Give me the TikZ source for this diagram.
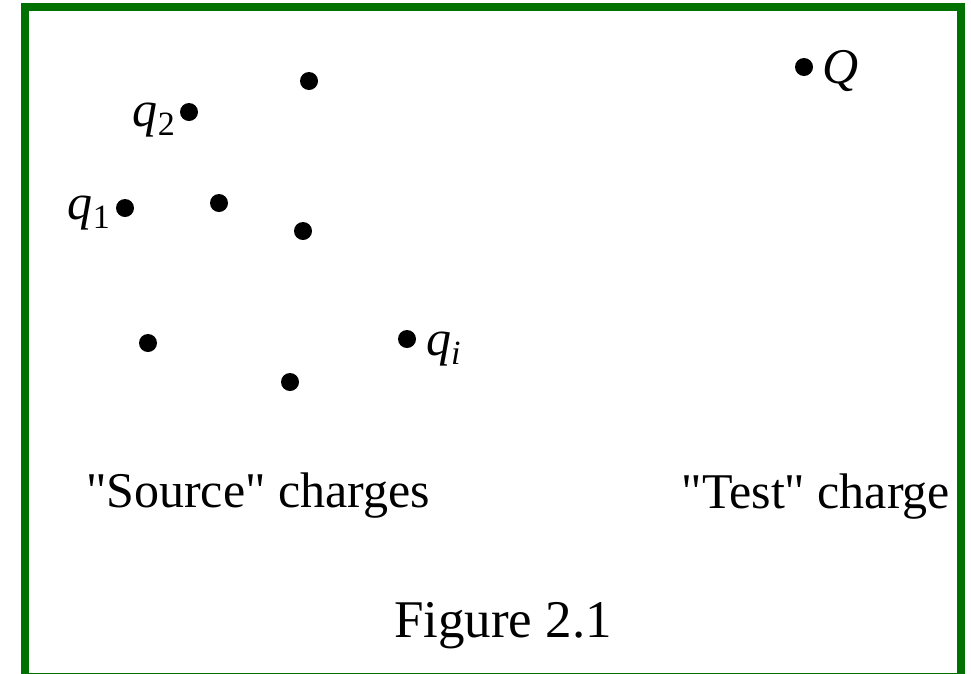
\documentclass[tikz,border=0pt]{standalone}
\usepackage{fontspec}
\setmainfont{Liberation Serif}[Ligatures=TeXOff]
\definecolor{framegreen}{RGB}{0,112,0}
% lowered subscript for the charge symbols
\newcommand\chgsub[1]{\raisebox{-9pt}{\fontsize{34}{34}\selectfont #1}}
\begin{document}
\begin{tikzpicture}[x=1pt,y=-1pt,
  charge/.style={circle,fill=black,inner sep=0pt,minimum size=18pt},
  caption/.style={inner sep=0pt,anchor=base,font=\fontsize{50}{60}\selectfont},
  sym/.style={inner sep=0pt,font=\fontsize{50}{60}\selectfont\itshape}]
\useasboundingbox (0,0) rectangle (971,673);
\fill[white] (0,0) rectangle (971,673);
% frame
\draw[framegreen,line width=8pt] (25,6.5) rectangle (961,677);

% source charges
\node[charge] (c2)   at (189,112) {};
\node[charge] (c1)   at (125,208) {};
\node[charge] (ca)   at (309,81)  {};
\node[charge] (cb)   at (219,203) {};
\node[charge] (cc)   at (303,231) {};
\node[charge] (cd)   at (148,343) {};
\node[charge] (ce)   at (290,382) {};
\node[charge] (ci)   at (407,339) {};
% test charge
\node[charge] (cQ)   at (804,67)  {};

% charge labels
\node[sym,anchor=base east] (l2) at (175,126) {q\chgsub{\upshape 2}};
\node[sym,anchor=base east] (l1) at (110,219) {q\chgsub{\upshape 1}};
\node[sym,anchor=base west] (li) at (426,355) {q\chgsub{i}};
\node[sym,anchor=base west] (lQ) at (822,83)  {Q};

% captions
\node[caption] (src)  at (258,507) {"Source" charges};
\node[caption] (tst)  at (816,508) {"Test" charge};
\node[caption,font=\fontsize{53}{62}\selectfont] (fig) at (503,637) {Figure 2.1};
\end{tikzpicture}
\end{document}
